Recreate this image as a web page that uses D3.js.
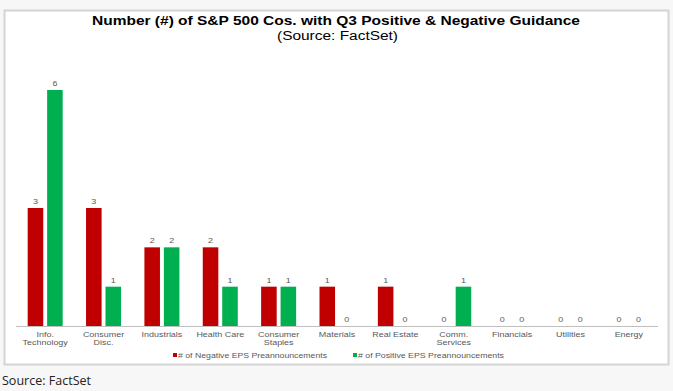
<!DOCTYPE html>
<html><head><meta charset="utf-8">
<script src="https://cdn.jsdelivr.net/npm/d3@7"></script>
<style>
html,body{margin:0;padding:0;background:#f7f7f7;}
svg{display:block;}
</style></head>
<body>
<svg id="chart" width="673" height="391"></svg>
<script>
const categories = ["Info.\nTechnology","Consumer\nDisc.","Industrials","Health Care","Consumer\nStaples","Materials","Real Estate","Comm.\nServices","Financials","Utilities","Energy"];
const negativeValues = [3,3,2,2,1,1,1,0,0,0,0];
const positiveValues = [6,1,2,1,1,0,0,1,0,0,0];
const seriesNames = ["# of Negative EPS Preannouncements","# of Positive EPS Preannouncements"];
const seriesColors = ["#C00000","#00B050"];
const titleText = "Number (#) of S&P 500 Cos. with Q3 Positive & Negative Guidance";
const subtitleText = "(Source: FactSet)";
const sourceText = "Source: FactSet";

const FONT = "Liberation Sans, Arial, sans-serif";
const svg = d3.select("#chart");
svg.append("rect").attr("x",0).attr("y",0).attr("width",673).attr("height",391).attr("fill","#f7f7f7");
svg.append("rect").attr("x",4.5).attr("y",10.5).attr("width",664).attr("height",354)
  .attr("fill","#ffffff").attr("stroke","#d4d4d4").attr("stroke-width",2);

svg.append("text").attr("x",92).attr("y",25)
  .attr("font-family",FONT).attr("font-weight","bold")
  .attr("font-size",13).attr("fill","#000")
  .attr("textLength",488).attr("lengthAdjust","spacingAndGlyphs").text(titleText);
svg.append("text").attr("x",277).attr("y",40)
  .attr("font-family",FONT)
  .attr("font-size",12).attr("fill","#000")
  .attr("textLength",121).attr("lengthAdjust","spacingAndGlyphs").text(subtitleText);

const x = d3.scaleBand().domain(categories).range([16,658]).paddingInner(0.4).paddingOuter(0.2);
const xs = d3.scaleBand().domain([0,1]).range([0,x.bandwidth()]).paddingInner(0.2);
const y = d3.scaleLinear().domain([0,6]).range([326,90]);

const data = categories.map((c,i)=>({cat:c, vals:[negativeValues[i], positiveValues[i]]}));
const SX = 1.12;

const g = svg.append("g");
const groups = g.selectAll("g.cat").data(data).join("g").attr("class","cat")
  .attr("transform", d=>`translate(${x(d.cat)},0)`);
groups.selectAll("rect").data(d=>d.vals.map((v,k)=>({v,k}))).join("rect")
  .attr("x", d=>xs(d.k)).attr("width", xs.bandwidth())
  .attr("y", d=>y(d.v)).attr("height", d=>y(0)-y(d.v))
  .attr("fill", d=>seriesColors[d.k]);
groups.selectAll("text.val").data(d=>d.vals.map((v,k)=>({v,k}))).join("text").attr("class","val")
  .attr("transform", d=>`translate(${xs(d.k)+xs.bandwidth()/2},${y(d.v)-4}) scale(${SX},1)`)
  .attr("text-anchor","middle").attr("font-family",FONT)
  .attr("font-size",8).attr("fill","#595959").text(d=>d.v);

// axis
const xAxis = d3.axisBottom(x).tickSize(0).tickFormat("");
const ax = svg.append("g").attr("transform",`translate(0,${y(0)})`).call(xAxis);
ax.select(".domain").attr("stroke","#bfbfbf").attr("d","M16,0.5H658");

const labels = svg.append("g");
categories.forEach(c=>{
  const lines = c.split("\n");
  const t = labels.append("text")
    .attr("transform",`translate(${x(c)+x.bandwidth()/2},337) scale(${SX},1)`)
    .attr("text-anchor","middle").attr("font-family",FONT)
    .attr("font-size",8).attr("fill","#595959");
  lines.forEach((l,i)=>t.append("tspan").attr("x",0).attr("dy", i===0?0:8.5).text(l));
});

// legend
const legX = [173, 353];
const legLen = [149, 146];
seriesNames.forEach((n,i)=>{
  svg.append("rect").attr("x",legX[i]).attr("y",353).attr("width",4).attr("height",4).attr("fill",seriesColors[i]);
  svg.append("text").attr("x",legX[i]+5).attr("y",358).attr("font-family",FONT)
    .attr("font-size",8).attr("fill","#595959")
    .attr("textLength",legLen[i]).attr("lengthAdjust","spacingAndGlyphs").text(n);
});

svg.append("text").attr("x",2).attr("y",385).attr("font-family","Open Sans, Noto Sans, sans-serif")
  .attr("font-size",13).attr("fill","#222")
  .attr("textLength",89).attr("lengthAdjust","spacingAndGlyphs").text(sourceText);
</script>
</body></html>
